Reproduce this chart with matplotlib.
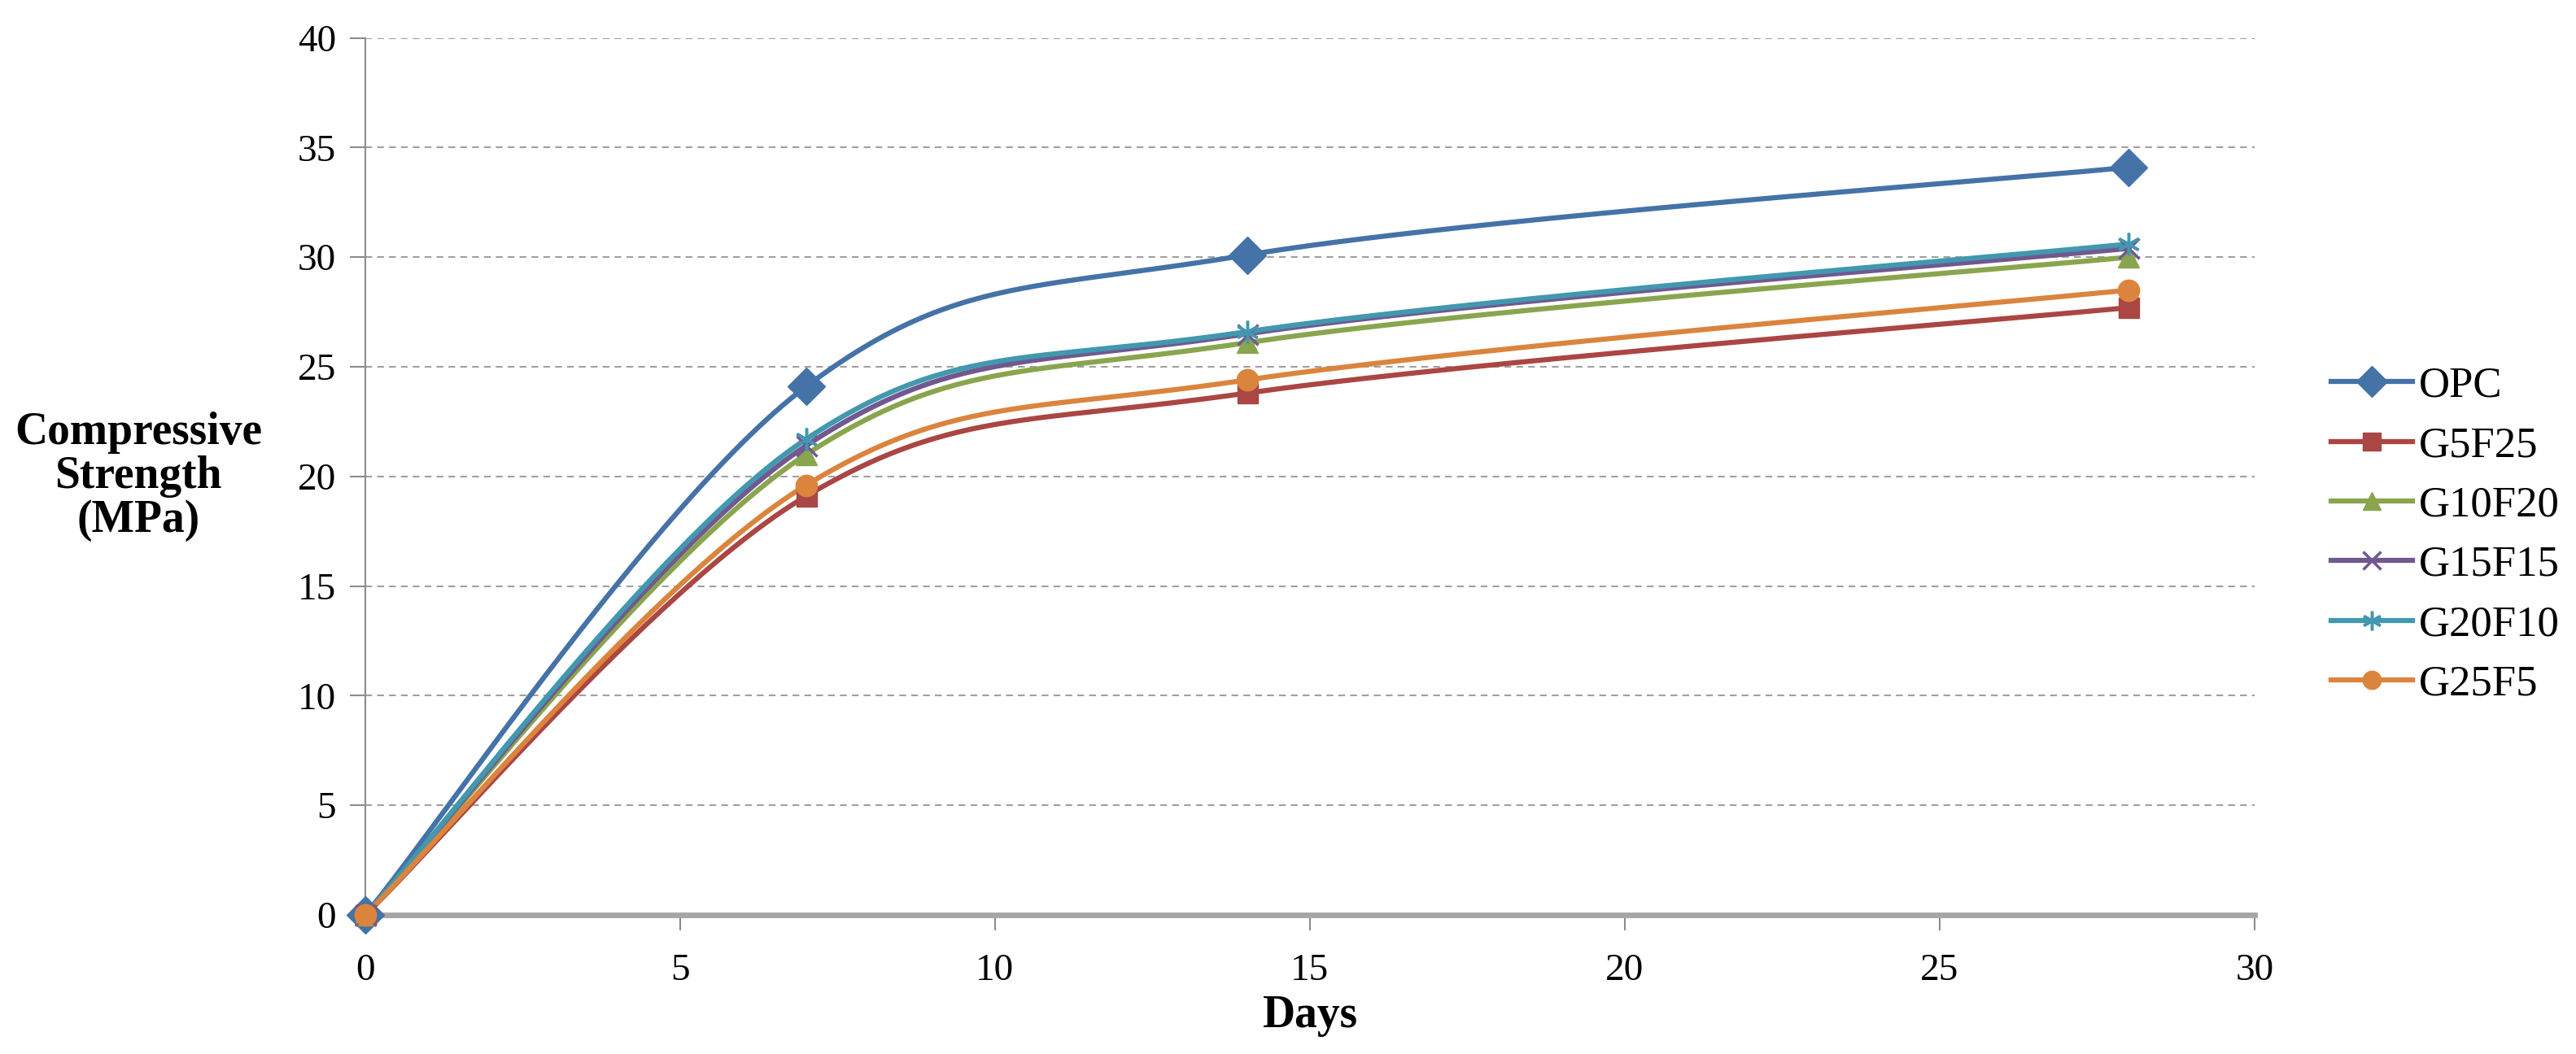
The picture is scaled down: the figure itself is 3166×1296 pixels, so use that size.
import numpy as np
import matplotlib
matplotlib.use("Agg")
import matplotlib.pyplot as plt

days = [0, 7, 14, 28]
series_names = ["OPC", "G5F25", "G10F20", "G15F15", "G20F10", "G25F5"]
opc = [0, 24.1, 30.1, 34.1]
g5f25 = [0, 19.1, 23.8, 27.7]
g10f20 = [0, 21.0, 26.1, 30.0]
g15f15 = [0, 21.4, 26.5, 30.4]
g20f10 = [0, 21.7, 26.6, 30.6]
g25f5 = [0, 19.6, 24.4, 28.5]
x_ticks = [0, 5, 10, 15, 20, 25, 30]
y_ticks = [0, 5, 10, 15, 20, 25, 30, 35, 40]

colors = ["#4572A7", "#AA4643", "#89A54E", "#71588F", "#4198AF", "#DB843D"]
markers = ["D", "s", "^", "x", (6, 2, 0), "o"]
msizes = [23, 18, 19, 18, 20, 19]

plt.rcParams["font.family"] = ["Liberation Serif", "DejaVu Serif"]


def smooth(xs, ys, n=60):
    # Catmull-Rom style bezier like the spreadsheet "smoothed line"
    pts = np.column_stack([xs, ys]).astype(float)
    out = [pts[:1]]
    t = np.linspace(0, 1, n)[1:, None]
    for i in range(len(pts) - 1):
        p0 = pts[max(i - 1, 0)]
        p1 = pts[i]
        p2 = pts[i + 1]
        p3 = pts[min(i + 2, len(pts) - 1)]
        c1 = p1 + (p2 - p0) / 6.0
        c2 = p2 - (p3 - p1) / 6.0
        seg = ((1 - t) ** 3) * p1 + 3 * ((1 - t) ** 2) * t * c1 \
            + 3 * (1 - t) * t ** 2 * c2 + t ** 3 * p2
        out.append(seg)
    curve = np.vstack(out)
    return curve[:, 0], curve[:, 1]


fig = plt.figure(figsize=(31.66, 12.96), dpi=100)
ax = fig.add_axes([0.1418, 0.132, 0.7334, 0.832])

data = [opc, g5f25, g10f20, g15f15, g20f10, g25f5]
for name, vals, c, m, ms in zip(series_names, data, colors, markers, msizes):
    sx, sy = smooth(days, vals)
    ax.plot(sx, sy, color=c, lw=4.5, clip_on=False, zorder=3)
    mew = 2.5 if m in ("x",) or isinstance(m, tuple) else 1
    ax.plot(days, vals, linestyle="none", marker=m, ms=ms, color=c,
            mec=c, mew=mew, clip_on=False, zorder=4)
    ax.plot([], [], color=c, lw=4.5, marker=m, ms=ms * 0.85, mec=c, mew=mew,
            label=name)

ax.set_xlim(0, 30)
ax.set_ylim(0, 40)
ax.set_xticks(x_ticks)
ax.set_yticks(y_ticks)
ax.tick_params(axis="both", labelsize=34, length=14, width=1.5,
               color="#8C8C8C", direction="out", pad=12)
ax.tick_params(axis="x", pad=20)
ax.yaxis.grid(True, linestyle=(0, (4, 3)), color="#A0A0A0", lw=1.5)
ax.set_axisbelow(True)
for s in ("top", "right"):
    ax.spines[s].set_visible(False)
ax.spines["left"].set_color("#8C8C8C")
ax.spines["left"].set_linewidth(1.5)
ax.spines["bottom"].set_color("#A6A6A6")
ax.spines["bottom"].set_linewidth(5)

ax.set_xlabel("Days", fontsize=40, fontweight="bold", labelpad=6)
fig.text(0.0537, 0.548, "Compressive\nStrength\n(MPa)", ha="center", va="center",
         fontsize=40, fontweight="bold", linespacing=1.05)

ax.legend(loc="center left", bbox_to_anchor=(1.02, 0.433), frameon=False,
          fontsize=38, handlelength=1.9, handletextpad=0.15, labelspacing=0.48)

fig.savefig("out.png", dpi=100)
